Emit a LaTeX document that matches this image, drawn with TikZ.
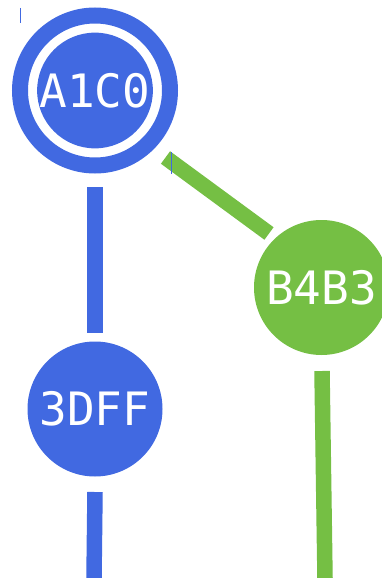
\documentclass[tikz,border=0pt]{standalone}
\usepackage{fontspec}
\setmonofont{DejaVu Sans Mono}
\usetikzlibrary{calc}
\definecolor{nblue}{HTML}{4169E1}
\definecolor{ngreen}{HTML}{75BF44}
\tikzset{
  vnode/.style={circle, inner sep=0pt, text=white, font=\ttfamily\fontsize{46}{46}\selectfont},
  bluenode/.style={vnode, fill=nblue, minimum size=135pt},
  greennode/.style={vnode, fill=ngreen, minimum size=135pt},
  blueedge/.style={draw=nblue, line width=15.5pt},
  greenedge/.style={draw=ngreen, line width=15.5pt},
  tick/.style={draw=nblue, line width=0.8pt}
}
\begin{document}
\begin{tikzpicture}[x=1pt, y=-1pt]
\useasboundingbox (0,0) rectangle (382,578);
% nodes
\node[vnode, fill=nblue, minimum size=110pt] (a1c0) at (95,90.5) {A1C0};
\draw[nblue, line width=16pt] (a1c0.center) circle (75pt);
\node[bluenode] (n3dff) at (95,409) {3DFF};
\node[greennode] (b4b3) at (321.5,287.5) {B4B3};
\coordinate (bend1) at (94,578);
\coordinate (gend1) at (325,578);
% connectors
\draw[blueedge] ($(a1c0.center)+(0,96.5)$) -- ($(n3dff.center)+(0,-76)$);
\draw[greenedge] ($(a1c0.center)+(70.5,67)$) -- ($(b4b3.center)+(-52.5,-54)$);
\draw[blueedge] ($(n3dff.center)+(0,83)$) -- (bend1);
\draw[greenedge] ($(b4b3.center)+(0.5,83.5)$) -- (gend1);
% small ticks
\draw[tick] (20,8) -- (20,23);
\draw[tick] (171,152) -- (171,174);
\end{tikzpicture}
\end{document}
